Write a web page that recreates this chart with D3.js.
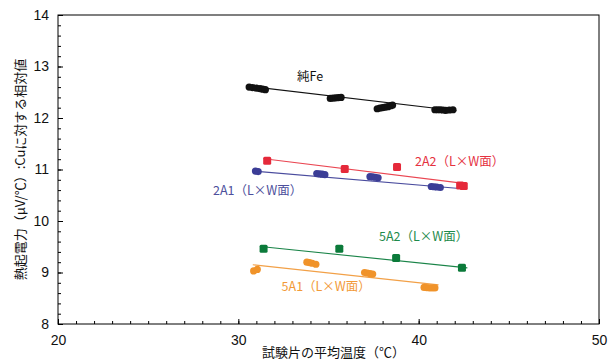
<!DOCTYPE html>
<html>
<head>
<meta charset="utf-8">
<script src="https://cdn.jsdelivr.net/npm/d3@7"></script>
<style>
  html, body { margin: 0; padding: 0; background: #fff; }
  svg { display: block; }
  text { font-family: "Liberation Sans", Arial, "Noto Sans CJK JP", sans-serif; }
  .jp { font-family: "Noto Sans CJK JP", "Liberation Sans", sans-serif; }
</style>
</head>
<body>
<svg id="chart" width="615" height="363"></svg>
<script>
// Thermoelectric power relative to Cu vs. mean specimen temperature
const xTicks = [20, 30, 40, 50];
const yTicks = [8, 9, 10, 11, 12, 13, 14];

// [temperature ℃, relative thermoelectric power μV/℃]
const pureFe = [
  [30.6, 12.60], [30.8, 12.59], [31.0, 12.58], [31.2, 12.57], [31.35, 12.56], [31.5, 12.55],
  [35.1, 12.38], [35.25, 12.385], [35.4, 12.39], [35.55, 12.395], [35.7, 12.40],
  [37.7, 12.18], [37.85, 12.19], [38.0, 12.20], [38.15, 12.21], [38.3, 12.22], [38.45, 12.24], [38.55, 12.25],
  [40.9, 12.16], [41.05, 12.16], [41.2, 12.16], [41.35, 12.155], [41.5, 12.15], [41.7, 12.155], [41.9, 12.16]
];
const s2A2 = [[31.6, 11.17], [35.9, 11.01], [38.8, 11.05], [42.3, 10.69], [42.5, 10.68]];
const s2A1 = [
  [30.95, 10.97], [31.1, 10.96],
  [34.35, 10.92], [34.5, 10.915], [34.65, 10.91], [34.8, 10.90],
  [37.3, 10.86], [37.45, 10.855], [37.6, 10.85], [37.75, 10.84],
  [40.7, 10.67], [40.85, 10.665], [41.0, 10.66], [41.2, 10.65]
];
const s5A2 = [[31.4, 9.46], [35.6, 9.46], [38.75, 9.28], [42.4, 9.09]];
const s5A1 = [
  [30.85, 9.03], [31.05, 9.06],
  [33.8, 9.20], [33.95, 9.19], [34.1, 9.18], [34.3, 9.16],
  [37.0, 9.00], [37.15, 8.99], [37.3, 8.98], [37.45, 8.97],
  [40.3, 8.71], [40.45, 8.705], [40.6, 8.70], [40.75, 8.70], [40.9, 8.70]
];

// fitted straight lines: [x0, y0, x1, y1]
const fitFe = [30.5, 12.62, 42.1, 12.14];
const fit2A2 = [31.65, 11.20, 42.5, 10.73];
const fit2A1 = [30.8, 10.97, 42.6, 10.62];
const fit5A2 = [31.35, 9.50, 42.7, 9.09];
const fit5A1 = [30.8, 9.15, 41.1, 8.76];

const seriesNames = ["純Fe", "2A2（L×W面）", "2A1（L×W面）", "5A2（L×W面）", "5A1（L×W面）"];

const series = [
  { name: seriesNames[0], data: pureFe, fit: fitFe, color: "#111111", line: "#111111", text: "#111111", shape: "circle", lx: 33.25, ly: 12.72 },
  { name: seriesNames[1], data: s2A2, fit: fit2A2, color: "#e5293a", line: "#ea4652", text: "#e5323f", shape: "square", lx: 39.8, ly: 11.06 },
  { name: seriesNames[2], data: s2A1, fit: fit2A1, color: "#3b3d96", line: "#4a4c9e", text: "#4d4f9c", shape: "circle", lx: 28.6, ly: 10.50 },
  { name: seriesNames[3], data: s5A2, fit: fit5A2, color: "#0b7a3a", line: "#1a8448", text: "#1d8a4b", shape: "square", lx: 37.8, ly: 9.62 },
  { name: seriesNames[4], data: s5A1, fit: fit5A1, color: "#f0932a", line: "#f2a047", text: "#f29a38", shape: "circle", lx: 32.4, ly: 8.65 }
];

const W = 615, H = 363;
const m = { left: 58, right: 16, top: 15, bottom: 39 };
const svg = d3.select("#chart");

const x = d3.scaleLinear().domain([20, 50]).range([m.left, W - m.right]);
const y = d3.scaleLinear().domain([8, 14]).range([H - m.bottom, m.top]);

// frame
svg.append("rect")
  .attr("x", x(20)).attr("y", y(14))
  .attr("width", x(50) - x(20)).attr("height", y(8) - y(14))
  .attr("fill", "none").attr("stroke", "#000").attr("stroke-width", 1);

// inward ticks: minor then major
const xAxis = svg.append("g").attr("transform", `translate(0,${y(8)})`);
xAxis.call(d3.axisBottom(x).tickValues(d3.range(20, 51, 1)).tickSize(-3).tickFormat(""));
xAxis.call(g => g.select(".domain").remove());
const xMajor = svg.append("g").attr("transform", `translate(0,${y(8)})`)
  .call(d3.axisBottom(x).tickValues(xTicks).tickSize(-5).tickPadding(10).tickFormat(d3.format("d")));
xMajor.select(".domain").remove();
xMajor.selectAll("text").attr("font-size", 14).attr("dy", "0.75em").attr("fill", "#111");

const yAxis = svg.append("g").attr("transform", `translate(${x(20)},0)`);
yAxis.call(d3.axisLeft(y).tickValues(d3.range(40, 71, 1).map(v => v / 5)).tickSize(-3).tickFormat(""));
yAxis.call(g => g.select(".domain").remove());
const yMajor = svg.append("g").attr("transform", `translate(${x(20)},0)`)
  .call(d3.axisLeft(y).tickValues(yTicks).tickSize(-5).tickPadding(9).tickFormat(d3.format("d")));
yMajor.select(".domain").remove();
yMajor.selectAll("text").attr("font-size", 14).attr("fill", "#111");
svg.selectAll(".tick line").attr("stroke", "#000");

// fitted lines
svg.append("g").selectAll("line").data(series).join("line")
  .attr("x1", d => x(d.fit[0])).attr("y1", d => y(d.fit[1]))
  .attr("x2", d => x(d.fit[2])).attr("y2", d => y(d.fit[3]))
  .attr("stroke", d => d.line).attr("stroke-width", 1.1);

// markers
series.forEach(s => {
  const g = svg.append("g");
  if (s.shape === "circle") {
    g.selectAll("circle").data(s.data).join("circle")
      .attr("cx", d => x(d[0])).attr("cy", d => y(d[1])).attr("r", 3.6)
      .attr("fill", s.color);
  } else {
    g.selectAll("rect").data(s.data).join("rect")
      .attr("x", d => x(d[0]) - 4).attr("y", d => y(d[1]) - 4)
      .attr("width", 8).attr("height", 8).attr("rx", 1.5)
      .attr("fill", s.color);
  }
});

// series labels
svg.append("g").selectAll("text").data(series).join("text")
  .attr("class", "jp")
  .attr("x", d => x(d.lx)).attr("y", d => y(d.ly))
  .attr("font-size", 12.5)
  .attr("fill", d => d.text)
  .text(d => d.name);

// axis titles
svg.append("text").attr("class", "jp")
  .attr("x", (x(20) + x(50)) / 2 + 5).attr("y", 357)
  .attr("text-anchor", "middle").attr("font-size", 13).attr("fill", "#111")
  .text("試験片の平均温度（℃）");

svg.append("text").attr("class", "jp")
  .attr("transform", `translate(25,${(y(8) + y(14)) / 2}) rotate(-90)`)
  .attr("text-anchor", "middle").attr("font-size", 13).attr("fill", "#111")
  .text("熱起電力（μV/℃）:Cuに対する相対値");
</script>
</body>
</html>
